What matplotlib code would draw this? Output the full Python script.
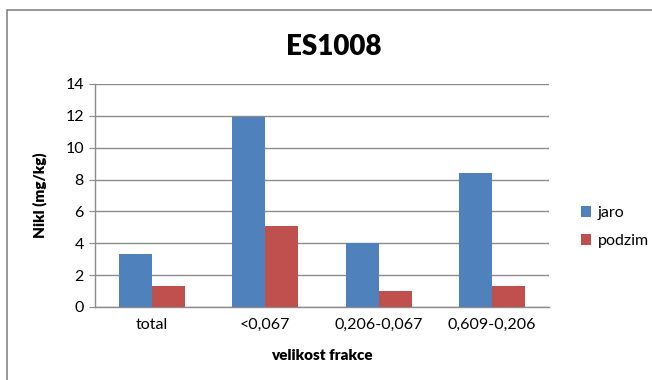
import numpy as np
import matplotlib
matplotlib.use("Agg")
import matplotlib.pyplot as plt
from matplotlib.patches import Rectangle

plt.rcParams['font.family'] = ['Lato', 'DejaVu Sans']

categories = ['total', '<0,067', '0,206-0,067', '0,609-0,206']
jaro = [3.3, 11.9, 4.0, 8.4]
podzim = [1.3, 5.1, 1.0, 1.3]

W, H = 652, 380
fig = plt.figure(figsize=(W / 100, H / 100), dpi=100)

# chart frame
fig.patches.append(Rectangle((7 / W, -0.1), 1.2, 1 - 10 / H + 0.1,
                             transform=fig.transFigure, fill=False,
                             edgecolor='#868686', linewidth=1.2))

ax = fig.add_axes([95 / W, 1 - 307 / H, 454 / W, 223 / H])

x = np.arange(len(categories))
bw = 0.29
ax.bar(x - bw / 2, jaro, bw, color='#4F81BD', label='jaro', zorder=3)
ax.bar(x + bw / 2, podzim, bw, color='#C0504D', label='podzim', zorder=3)

ax.set_xlim(-0.5, len(categories) - 0.5)
ax.set_ylim(0, 14)
ax.set_yticks(range(0, 15, 2))
ax.set_xticks(x)
ax.set_xticklabels(categories)
ax.yaxis.grid(True, color='#8c8c8c', linewidth=1, zorder=0)
ax.set_axisbelow(True)

for s in ['top', 'right']:
    ax.spines[s].set_visible(False)
for s in ['left', 'bottom']:
    ax.spines[s].set_color('#8c8c8c')
    ax.spines[s].set_linewidth(1)

ax.tick_params(axis='y', length=4, color='#8c8c8c', labelsize=11.5, pad=4)
ax.tick_params(axis='x', length=0, labelsize=11.5, pad=8)

ax.set_ylabel('Nikl (mg/kg)', fontsize=11, fontweight='heavy', labelpad=13)
ax.set_xlabel('velikost frakce', fontsize=11, fontweight='heavy', labelpad=12)

fig.text(334 / W, 1 - 47 / H, 'ES1008', ha='center', va='center',
         fontsize=20, fontweight='heavy')

fig.legend(loc='center left', bbox_to_anchor=(573 / W, 1 - 227 / H),
           frameon=False, fontsize=11.5, handlelength=0.65, handleheight=0.65,
           handletextpad=0.4, labelspacing=0.9, borderpad=0)

fig.savefig('out.png', dpi=100)
